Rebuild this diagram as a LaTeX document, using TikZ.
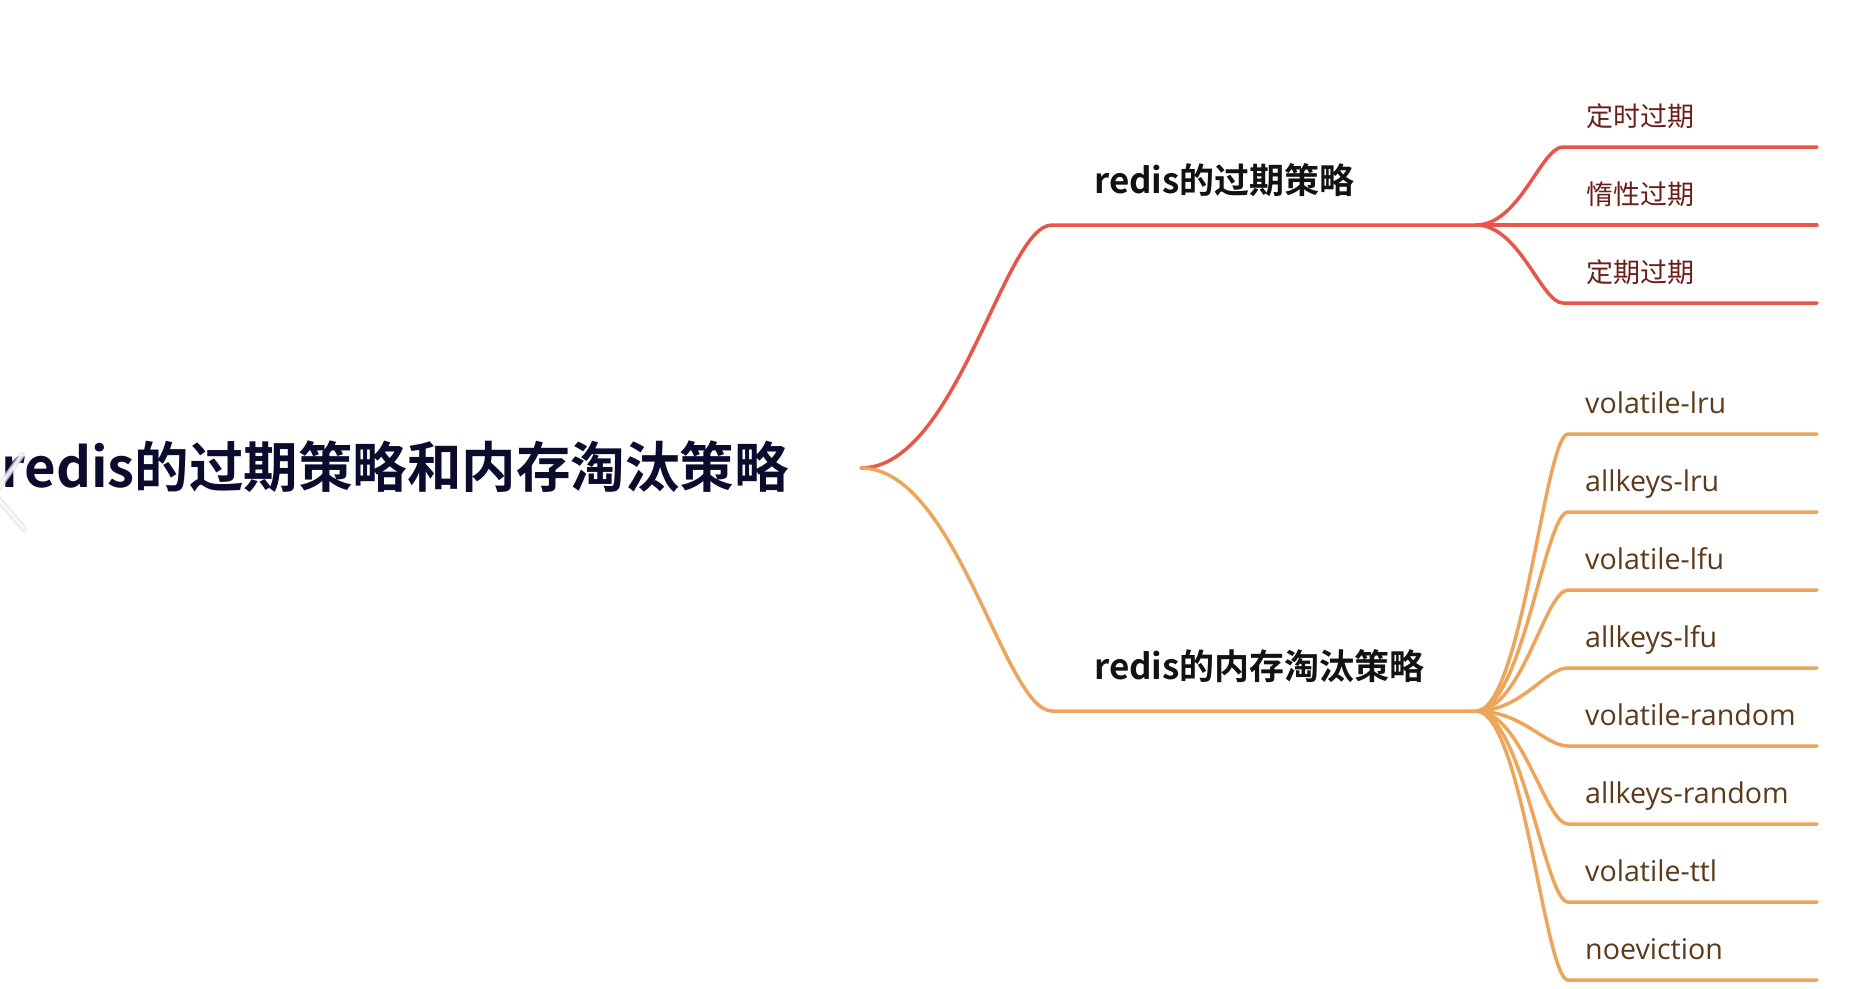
\documentclass[tikz,border=0pt]{standalone}
\usepackage{fontspec}
\setmainfont{Noto Sans CJK SC}[BoldFont={Noto Sans CJK SC Bold}]
\newfontfamily\latinfont{Open Sans}
\usetikzlibrary{calc}
\definecolor{redl}{HTML}{E8564A}
\definecolor{orgl}{HTML}{EDA55C}
\definecolor{roottxt}{HTML}{0B0B2E}
\definecolor{redtxt}{HTML}{6B1F1A}
\definecolor{orgtxt}{HTML}{5C3A1A}
\begin{document}
\begin{tikzpicture}[x=1pt,y=-1pt,
  link/.style={line width=3.5pt,line cap=round},
  redlink/.style={link,draw=redl},
  orglink/.style={link,draw=orgl},
  sc/.style={to path={let \p1=(\tikztostart), \p2=(\tikztotarget) in
     .. controls ({\x1+0.5*(\x2-\x1)},\y1) and ({\x1+0.75*(\x2-\x1)},\y2) .. (\tikztotarget)}},
  roottext/.style={inner sep=0pt,anchor=base west,font=\bfseries\fontsize{54.5}{54.5}\selectfont,text=roottxt},
  branchtext/.style={inner sep=0pt,anchor=base west,font=\bfseries\fontsize{35}{35}\selectfont,text=black!93},
  redleaf/.style={inner sep=0pt,anchor=base west,font=\fontsize{27}{27}\selectfont,text=redtxt},
  orgleaf/.style={inner sep=0pt,anchor=base west,font=\latinfont\fontsize{28.6}{28.6}\selectfont,text=orgtxt}]
\useasboundingbox (0,0) rectangle (1854,988);
\fill[white] (0,0) rectangle (1854,988);

% root
\node[roottext] (root) at (1,487) {redis的过期策略和内存淘汰策略};
\coordinate (rj) at (861,468);

% branches
\coordinate (rb0) at (1052,225);
\coordinate (rb1) at (1476,225);
\coordinate (ob0) at (1052,711);
\coordinate (ob1) at (1476,711);
\node[branchtext] (rlabel) at (1094,193) {redis的过期策略};
\node[branchtext] (olabel) at (1094,679) {redis的内存淘汰策略};

\draw[redlink] (rj) to[sc] (rb0) -- (rb1);
\draw[orglink] (rj) to[sc] (ob0) -- (ob1);

% red children
\foreach \i/\y/\t in {1/147/定时过期,2/225/惰性过期,3/303/定期过期}{
  \coordinate (rc\i s) at (1563,\y);
  \coordinate (rc\i e) at (1817,\y);
  \node[redleaf] (rt\i) at (1586,\y-21) {\t};
  \draw[redlink] (rb1) to[sc] (rc\i s) -- (rc\i e);
}

% orange children
\foreach \i/\y/\t in {1/434/volatile-lru,2/512/allkeys-lru,3/590/volatile-lfu,4/668/allkeys-lfu,5/746/volatile-random,6/824/allkeys-random,7/902/volatile-ttl,8/980/noeviction}{
  \coordinate (oc\i s) at (1568,\y);
  \coordinate (oc\i e) at (1817,\y);
  \node[orgleaf] (ot\i) at (1585,\y-21) {\t};
  \draw[orglink] (ob1) to[sc] (oc\i s) -- (oc\i e);
}

% faint back chevron at left edge
\coordinate (cv1) at (22,455);
\coordinate (cv2) at (-6,494);
\coordinate (cv3) at (24,529);
\draw[line width=6pt,line cap=round,line join=round,draw=gray!25,opacity=0.7] (cv1) -- (cv2) -- (cv3);
\draw[line width=3pt,line cap=round,line join=round,draw=white,opacity=0.8] (cv1) -- (cv2) -- (cv3);
\end{tikzpicture}
\end{document}
